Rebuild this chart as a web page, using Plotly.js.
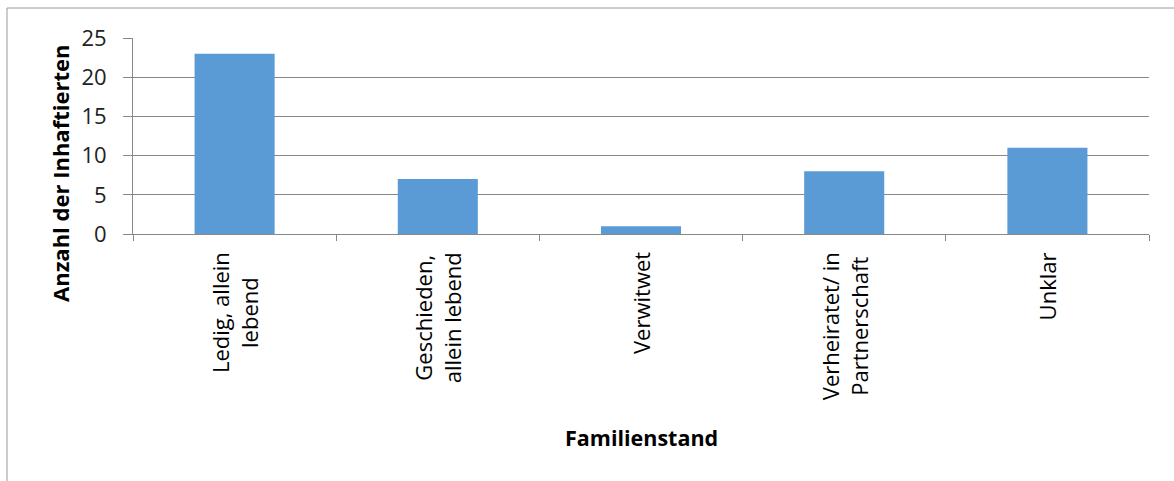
<!DOCTYPE html>
<html>
<head>
<meta charset="utf-8">
<script src="https://cdn.plot.ly/plotly-3.0.1.min.js"></script>
<style>html,body{margin:0;padding:0;background:#fff;}#chart{width:1174px;height:481px;}</style>
</head>
<body>
<div id="chart"></div>
<script>
const categories = ["Ledig, allein lebend", "Geschieden, allein lebend", "Verwitwet", "Verheiratet/ in Partnerschaft", "Unklar"];
const categoryLabels = ["Ledig, allein<br>lebend", "Geschieden,<br>allein lebend", "Verwitwet", "Verheiratet/ in<br>Partnerschaft", "Unklar"];
const counts = [23, 7, 1, 8, 11];
const yTicks = [0, 5, 10, 15, 20, 25];
const xTitle = "Familienstand";
const yTitle = "Anzahl der Inhaftierten";

const W = 1174, H = 481;
const margin = {l: 133, r: 25, t: 38, b: 247};
const pw = W - margin.l - margin.r, ph = H - margin.t - margin.b;
const px = v => (v - margin.l) / pw;         // pixel x -> paper
const py = v => (H - margin.b - v) / ph;     // pixel y -> paper

const font = "'Open Sans', 'Noto Sans', sans-serif";
const gridColor = "#888888";

const annotations = categories.map((c, i) => ({
  x: c, xref: "x", y: py(250), yref: "paper",
  text: categoryLabels[i], showarrow: false, textangle: -90,
  xanchor: "center", yanchor: "top", align: "center",
  font: {family: font, size: 22, color: "#000"}
}));
annotations.push({
  x: 0.5, xref: "paper", y: py(437), yref: "paper", text: "<b>" + xTitle + "</b>",
  showarrow: false, xanchor: "center", yanchor: "middle",
  font: {family: font, size: 21.5, color: "#000"}
});
annotations.push({
  x: px(60), xref: "paper", y: py(174), yref: "paper", text: "<b>" + yTitle + "</b>",
  showarrow: false, textangle: -90, xanchor: "center", yanchor: "middle",
  font: {family: font, size: 22, color: "#000"}
});

const data = [{
  type: "bar", x: categories, y: counts,
  marker: {color: "#5B9BD5"}, hoverinfo: "x+y"
}];

const layout = {
  width: W, height: H, margin: margin,
  paper_bgcolor: "#fff", plot_bgcolor: "#fff",
  showlegend: false, bargap: 0.606,
  font: {family: font, color: "#000"},
  xaxis: {
    type: "category", showticklabels: false, ticks: "outside", tickson: "boundaries",
    ticklen: 6, tickcolor: gridColor, showline: true, linecolor: gridColor, linewidth: 1,
    showgrid: false, zeroline: false, fixedrange: true
  },
  yaxis: {
    range: [0, 25], tickvals: yTicks, ticks: "outside", ticklen: 9, tickcolor: gridColor,
    ticklabelstandoff: 12,
    showline: true, linecolor: gridColor, showgrid: true, gridcolor: gridColor, gridwidth: 1,
    zeroline: false, tickfont: {family: font, size: 22, color: "#222"}, fixedrange: true
  },
  annotations: annotations,
  shapes: [
    {type: "line", xref: "paper", yref: "paper", x0: px(7), x1: px(1174), y0: py(8), y1: py(8), line: {color: "#9a9a9a", width: 1}},
    {type: "line", xref: "paper", yref: "paper", x0: px(7), x1: px(7), y0: py(8), y1: py(481), line: {color: "#9a9a9a", width: 1}}
  ]
};

Plotly.newPlot("chart", data, layout, {displayModeBar: false, staticPlot: true});
</script>
</body>
</html>
